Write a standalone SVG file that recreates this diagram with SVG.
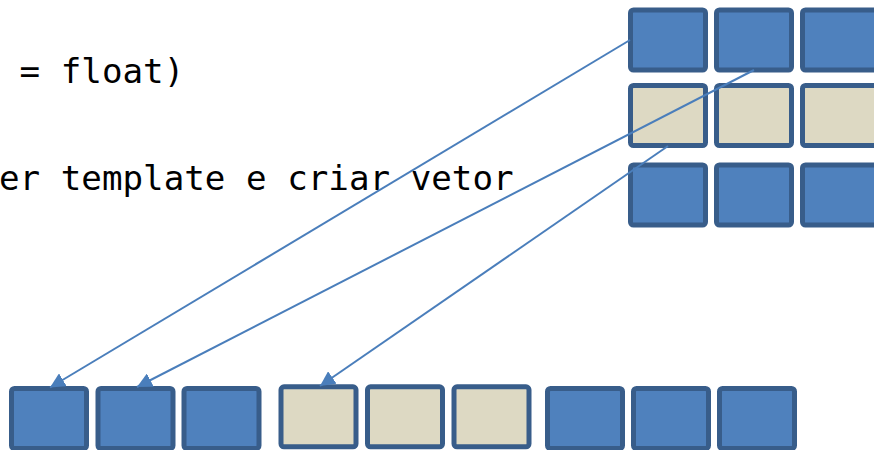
<svg xmlns="http://www.w3.org/2000/svg" width="874" height="450" viewBox="0 0 874 450">
  <style>
    .code { font-family: "DejaVu Sans Mono", "Liberation Mono", monospace; font-size: 34.2px; fill: #000000; }
    .blue { fill: #4F81BD; stroke: #385D8A; stroke-width: 5; }
    .tan { fill: #DDD9C3; stroke: #385D8A; stroke-width: 5; }
    .conn { fill: none; stroke: #4A7EBB; stroke-width: 2; marker-end: url(#arrow); }
  </style>
  <defs>
    <marker id="arrow" viewBox="0 0 15 15" refX="15" refY="7.5" markerWidth="15" markerHeight="15" markerUnits="userSpaceOnUse" orient="auto">
      <path d="M0,0 L15,7.5 L0,15 z" fill="#4A7EBB"/>
    </marker>
  </defs>
  <rect width="874" height="450" fill="#FFFFFF"/>

  <g id="text">
    <text class="code" x="19.6" y="83">= float)</text>
    <text class="code" x="-1" y="190">er template e criar vetor</text>
  </g>

  <g id="grid">
    <g id="g-r1c1"><rect class="blue" x="630.5" y="10" width="75" height="60" rx="3"/></g>
    <g id="g-r1c2"><rect class="blue" x="716.5" y="10" width="75" height="60" rx="3"/></g>
    <g id="g-r1c3"><rect class="blue" x="802.5" y="10" width="75" height="60" rx="3"/></g>
    <g id="g-r2c1"><rect class="tan" x="630.5" y="85.5" width="75" height="60" rx="3"/></g>
    <g id="g-r2c2"><rect class="tan" x="716.5" y="85.5" width="75" height="60" rx="3"/></g>
    <g id="g-r2c3"><rect class="tan" x="802.5" y="85.5" width="75" height="60" rx="3"/></g>
    <g id="g-r3c1"><rect class="blue" x="630.5" y="165" width="75" height="60" rx="3"/></g>
    <g id="g-r3c2"><rect class="blue" x="716.5" y="165" width="75" height="60" rx="3"/></g>
    <g id="g-r3c3"><rect class="blue" x="802.5" y="165" width="75" height="60" rx="3"/></g>
  </g>

  <g id="vector">
    <g id="v1"><rect class="blue" x="11.5" y="388.5" width="75" height="60" rx="3"/></g>
    <g id="v2"><rect class="blue" x="98" y="388.5" width="75" height="60" rx="3"/></g>
    <g id="v3"><rect class="blue" x="184" y="388.5" width="75" height="60" rx="3"/></g>
    <g id="v4"><rect class="tan" x="281" y="386.8" width="75" height="60" rx="3"/></g>
    <g id="v5"><rect class="tan" x="367.5" y="386.8" width="75" height="60" rx="3"/></g>
    <g id="v6"><rect class="tan" x="454" y="386.8" width="75" height="60" rx="3"/></g>
    <g id="v7"><rect class="blue" x="547.5" y="388.5" width="75" height="60" rx="3"/></g>
    <g id="v8"><rect class="blue" x="633.5" y="388.5" width="75" height="60" rx="3"/></g>
    <g id="v9"><rect class="blue" x="719.5" y="388.5" width="75" height="60" rx="3"/></g>
  </g>

  <g id="connectors">
    <line class="conn" x1="630" y1="40" x2="50" y2="387.5"/>
    <line class="conn" x1="754" y1="70" x2="137" y2="387"/>
    <line class="conn" x1="668" y1="146" x2="320" y2="386"/>
  </g>
</svg>
